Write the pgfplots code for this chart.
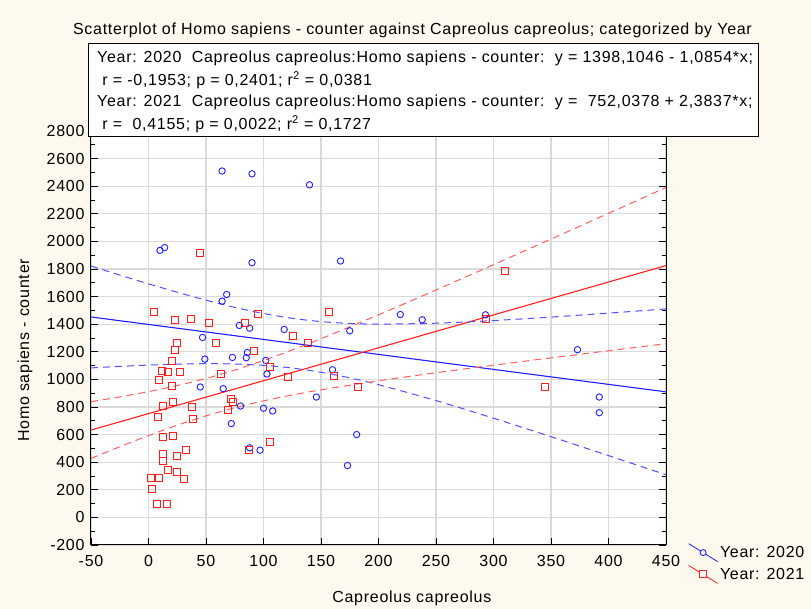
\documentclass[border=0pt]{standalone}
\usepackage{fontspec}
\setmainfont{Liberation Sans}[LetterSpace=4.5]
\usepackage{pgfplots}
\pgfplotsset{compat=1.18}
\definecolor{bgcream}{RGB}{254,249,238}
\definecolor{y20}{RGB}{30,30,255}
\definecolor{y20d}{RGB}{80,80,255}
\definecolor{y21}{RGB}{255,30,30}
\definecolor{y21d}{RGB}{255,95,95}
\definecolor{gridgray}{RGB}{218,218,218}
\newcommand{\fs}{\fontsize{16}{19}\selectfont}

\begin{document}
\begin{tikzpicture}
\useasboundingbox (-91pt,-64pt) rectangle (720pt,545pt);
\fill[bgcream] (-91pt,-64pt) rectangle (720pt,545pt);
\begin{axis}[
    at={(0pt,0pt)}, anchor=south west,
    scale only axis, width=575pt, height=414pt,
    xmin=-50, xmax=450, ymin=-200, ymax=2800,
    xtick={-50,0,...,450}, ytick={-200,0,...,2800},
    minor y tick num=1,
    xtick pos=left, ytick pos=both,
    tick align=inside,
    major tick length=7pt, minor tick length=4pt,
    every tick/.style={black, line width=0.8pt},
    axis line style={line width=1pt},
    axis background/.style={fill=white},
    grid=major,
    major grid style={gridgray, line width=1.1pt},
    scaled ticks=false,
    /pgf/number format/assume math mode=true,
    /pgf/number format/1000 sep={},
    tick label style={font=\fs},
    xticklabel style={yshift=-7pt},
    yticklabel style={xshift=-3pt},
    every axis x label/.style={at={(axis description cs:0.558,0)}, anchor=center, yshift=-53pt, font=\fs},
    every axis y label/.style={at={(axis description cs:0,0.47)}, xshift=-66pt, rotate=90, anchor=center, font=\fs},
    xlabel={Capreolus capreolus},
    ylabel={Homo sapiens - counter},
    legend style={at={(1,0)}, anchor=north west, xshift=22pt, yshift=2pt,
        draw=none, fill=none, font=\fs, row sep=3pt, inner sep=0pt},
    legend cell align=left,
]
% Year 2020
\addplot[only marks, y20, mark=o, mark size=3.2pt, mark options={line width=0.9pt},
    legend image code/.code={
        \draw[y20, line width=0.8pt] (0pt,9pt) -- (29pt,-9pt);
        \draw[y20, line width=0.9pt, fill=white] (14.5pt,0pt) circle (3pt);
    }] coordinates {
    (64,2510) (90,2490) (10,1935) (14,1955) (90,1846) (68,1615) (64,1567)
    (79,1391) (88,1371) (118,1362) (47,1304) (49,1147) (73,1159) (85,1157)
    (86,1195) (102,1138) (103,1039) (45,945) (65,933) (80,807) (100,791)
    (108,771) (72,680) (88,504) (97,487) (140,2410) (167,1858) (219,1470)
    (238,1432) (175,1352) (160,1070) (146,872) (181,600) (173,376)
    (293,1468) (373,1215) (392,872) (392,759)
};
\addlegendentry{Year: 2020}
% Year 2021
\addplot[only marks, y21, mark=square, mark size=3.5pt, mark options={line width=0.9pt},
    legend image code/.code={
        \draw[y21, line width=0.8pt] (0pt,9pt) -- (29pt,-9pt);
        \draw[y21, line width=0.9pt, fill=white] (11pt,-3.5pt) rectangle (18pt,3.5pt);
    }] coordinates {
    (45,1916) (5,1487) (23,1429) (37,1436) (53,1410) (84,1410) (95,1477)
    (25,1263) (59,1263) (23,1210) (92,1205) (20,1135) (106,1089) (12,1060)
    (17,1051) (27,1051) (63,1036) (9,993) (20,955) (121,1015) (72,861)
    (73,834) (21,834) (13,810) (38,798) (69,776) (8,730) (39,711) (13,583)
    (21,593) (106,547) (87,487) (33,487) (13,463) (25,446) (13,407) (17,342)
    (25,330) (31,282) (2,284) (9,284) (3,203) (7,96) (16,96) (157,1487)
    (126,1313) (139,1263) (161,1022) (182,945) (293,1436) (310,1788) (345,945)
};
\addlegendentry{Year: 2021}

% fitted lines
\addplot[y20, line width=1.1pt, forget plot] coordinates {(-50,1452.4) (450,909.7)};
\addplot[y21, line width=1.1pt, forget plot] coordinates {(-50,632.85) (450,1824.7)};

% 95% bands
\addplot[y20d, line width=1pt, dash pattern=on 7pt off 5pt, smooth, forget plot] coordinates {
    (-50,1821.7) (-25,1756.1) (0,1692.5) (25,1631.4) (50,1573.9) (75,1521.9)
    (100,1477.5) (125,1442.6) (150,1418.8) (175,1405.4) (200,1400.4)
    (250,1407.2) (300,1426.3) (350,1451.5) (400,1480.1) (450,1510.6)};
\addplot[y20d, line width=1pt, dash pattern=on 7pt off 5pt, smooth, forget plot] coordinates {
    (-50,1083.1) (-25,1094.3) (0,1103.7) (25,1110.6) (50,1113.7) (75,1111.5)
    (100,1101.7) (125,1082.2) (150,1051.8) (175,1011.0) (200,961.6)
    (250,846.4) (300,718.7) (350,584.9) (400,447.9) (450,308.8)};
\addplot[y21d, line width=1pt, dash pattern=on 7pt off 5pt, smooth, forget plot] coordinates {
    (-50,838.4) (-25,872.9) (0,911.3) (25,955.3) (50,1006.9) (75,1067.4)
    (100,1136.7) (125,1213.1) (150,1294.8) (200,1467.9) (250,1647.9)
    (300,1831.3) (350,2016.7) (400,2203.3) (450,2390.6)};
\addplot[y21d, line width=1pt, dash pattern=on 7pt off 5pt, smooth, forget plot] coordinates {
    (-50,427.3) (-25,511.9) (0,592.7) (25,667.9) (50,735.5) (75,794.2)
    (100,844.1) (125,886.9) (150,924.4) (200,989.7) (250,1048.1)
    (300,1102.9) (350,1155.9) (400,1207.7) (450,1258.8)};
\end{axis}

% title and regression box
\node[font=\fs] at (321.5pt,515pt) {Scatterplot of Homo sapiens - counter against Capreolus capreolus; categorized by Year};
\draw[fill=white, line width=0.8pt] (-3pt,409pt) rectangle (667pt,502pt);
\node[anchor=west, font=\fs, inner sep=0pt] at (6pt,487pt) {Year: 2020\ \ Capreolus capreolus:Homo sapiens - counter:\ \ y = 1398,1046 - 1,0854*x;};
\node[anchor=west, font=\fs, inner sep=0pt] at (6pt,465pt) {\ r = -0,1953; p = 0,2401; r\textsuperscript{2} = 0,0381};
\node[anchor=west, font=\fs, inner sep=0pt] at (6pt,443pt) {Year: 2021\ \ Capreolus capreolus:Homo sapiens - counter:\ \ y =\ \ 752,0378 + 2,3837*x;};
\node[anchor=west, font=\fs, inner sep=0pt] at (6pt,421pt) {\ r =\ \ 0,4155; p = 0,0022; r\textsuperscript{2} = 0,1727};
\end{tikzpicture}
\end{document}
